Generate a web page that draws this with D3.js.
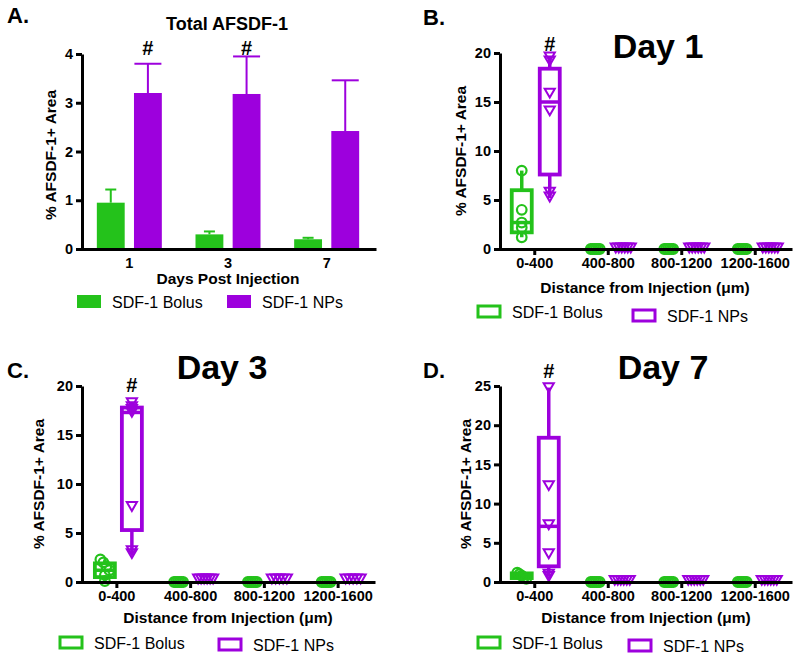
<!DOCTYPE html>
<html>
<head>
<meta charset="utf-8">
<script src="https://cdn.jsdelivr.net/npm/d3@7/dist/d3.min.js"></script>
<style>
  body { margin: 0; background: #fff; }
  svg { display: block; }
</style>
</head>
<body>
<svg width="800" height="660"></svg>
<script>
// colours + font
const GREEN = "#24c21b", PURPLE = "#9d00dd";
const FONT = "'Liberation Sans', Arial, Helvetica, sans-serif";

// Panel A: mean and upper error bar (% area)
const daysA = ["1", "3", "7"];
const bolusMean = [0.95, 0.30, 0.20];
const bolusErr = [1.22, 0.36, 0.23];
const npMean = [3.20, 3.18, 2.42];
const npErr = [3.80, 3.95, 3.46];
const sigA = [true, true, false];

// Panels B-D: distance bins, box stats [min, q1, median, q3, max] and points
const distBins = ["0-400", "400-800", "800-1200", "1200-1600"];

const day1BolusStats = [[1.2, 1.7, 2.7, 6.0, 8.0], [0, 0, 0, 0, 0], [0, 0, 0, 0, 0], [0, 0, 0, 0, 0]];
const day1BolusPts = [[8.0, 4.0, 2.7, 2.2, 1.2], [0, 0, 0, 0, 0, 0], [0, 0, 0, 0, 0, 0], [0, 0, 0, 0, 0, 0]];
const day1NpStats = [[5.2, 7.6, 15.0, 18.4, 19.6], [0, 0, 0, 0, 0], [0, 0, 0, 0, 0], [0, 0, 0, 0, 0]];
const day1NpPts = [[19.6, 19.2, 15.9, 14.1, 5.8, 5.3], [0.1, 0.1, 0.1, 0.1, 0.1, 0.1], [0.1, 0.1, 0.1, 0.1, 0.1, 0.1], [0.1, 0.1, 0.1, 0.1, 0.1, 0.1]];

const day3BolusStats = [[0.1, 0.5, 1.2, 1.9, 2.3], [0, 0, 0, 0, 0], [0, 0, 0, 0, 0], [0, 0, 0, 0, 0]];
const day3BolusPts = [[2.3, 2.0, 1.6, 1.2, 0.7, 0.1], [0, 0, 0, 0, 0, 0], [0, 0, 0, 0, 0, 0], [0, 0, 0, 0, 0, 0]];
const day3NpStats = [[2.9, 5.3, 17.3, 17.8, 18.3], [0, 0, 0, 0, 0], [0, 0, 0, 0, 0], [0, 0, 0, 0, 0]];
const day3NpPts = [[18.3, 17.9, 17.6, 17.3, 7.7, 3.2, 2.9], [0.3, 0.3, 0.3, 0.3, 0.3, 0.3], [0.3, 0.3, 0.3, 0.3, 0.3], [0.3, 0.3, 0.3, 0.3, 0.3]];

const day7BolusStats = [[0.4, 0.5, 0.8, 1.1, 1.2], [0, 0, 0, 0, 0], [0, 0, 0, 0, 0], [0, 0, 0, 0, 0]];
const day7BolusPts = [[1.2, 1.0, 0.8, 0.6, 0.4], [0, 0, 0, 0, 0, 0], [0, 0, 0, 0, 0, 0], [0, 0, 0, 0, 0, 0]];
const day7NpStats = [[0.7, 2.0, 7.1, 18.4, 24.8], [0, 0, 0, 0, 0], [0, 0, 0, 0, 0], [0, 0, 0, 0, 0]];
const day7NpPts = [[24.8, 12.3, 7.3, 3.6, 1.0, 0.7], [0.2, 0.2, 0.2, 0.2, 0.2, 0.2], [0.2, 0.2, 0.2, 0.2, 0.2, 0.2], [0.2, 0.2, 0.2, 0.2, 0.2, 0.2]];

const legendNames = ["SDF-1 Bolus", "SDF-1 NPs"];

const svg = d3.select("svg");

function styleAxis(g, size) {
    g.attr("font-family", FONT).attr("font-size", size).attr("font-weight", "bold");
    g.selectAll("path.domain").attr("stroke", "#000").attr("stroke-width", 3);
    g.selectAll(".tick line").attr("stroke", "#000").attr("stroke-width", 3);
    g.selectAll(".tick text").attr("fill", "#000");
}

function addText(txt, x, y, size, weight, anchor, rotate) {
    let t = svg.append("text")
        .attr("font-family", FONT)
        .attr("font-size", size)
        .attr("font-weight", weight)
        .attr("text-anchor", anchor || "start")
        .attr("fill", "#000")
        .text(txt);
    if (rotate) t.attr("transform", `translate(${x},${y})rotate(-90)`);
    else t.attr("x", x).attr("y", y);
    return t;
}

/* Panel A: grouped bars with error bars */
function drawBars() {
    let x = d3.scaleBand().domain(daysA).range([80, 376]);
    let xs = d3.scaleBand().domain(["bolus", "np"]).range([-32.5, 32.5]).paddingInner(0.25);
    let y = d3.scaleLinear().domain([0, 4]).range([249, 54]);

    let series = [
        {key: "bolus", color: GREEN, mean: bolusMean, err: bolusErr, cap: 11},
        {key: "np", color: PURPLE, mean: npMean, err: npErr, cap: 27}
    ];
    let g = svg.append("g");
    series.forEach(s => {
        let rows = daysA.map((d, i) => ({day: d, m: s.mean[i], e: s.err[i]}));
        let cx = d => x(d.day) + x.bandwidth() / 2 + xs(s.key) + xs.bandwidth() / 2;
        g.selectAll(".err-" + s.key)
            .data(rows)
            .join("line")
            .attr("x1", cx).attr("x2", cx)
            .attr("y1", d => y(d.m)).attr("y2", d => y(d.e))
            .attr("stroke", s.color).attr("stroke-width", 2);
        g.selectAll(".cap-" + s.key)
            .data(rows)
            .join("line")
            .attr("x1", d => cx(d) - s.cap / 2).attr("x2", d => cx(d) + s.cap / 2)
            .attr("y1", d => y(d.e)).attr("y2", d => y(d.e))
            .attr("stroke", s.color).attr("stroke-width", 2);
        g.selectAll(".bar-" + s.key)
            .data(rows)
            .join("rect")
            .attr("x", d => x(d.day) + x.bandwidth() / 2 + xs(s.key))
            .attr("y", d => y(d.m))
            .attr("width", xs.bandwidth())
            .attr("height", d => y(0) - y(d.m))
            .attr("fill", s.color);
    });

    // significance marks above NP bars
    daysA.forEach((d, i) => {
        if (!sigA[i]) return;
        addText("#", x(d) + x.bandwidth() / 2 + xs("np") + xs.bandwidth() / 2, y(3.97), 20, "bold", "middle");
    });

    let ya = svg.append("g").attr("transform", "translate(82,0)")
        .call(d3.axisLeft(y).ticks(4).tickSize(6).tickSizeOuter(0).tickPadding(3));
    styleAxis(ya, 14.5);
    let xa = svg.append("g").attr("transform", `translate(0,${y(0)})`)
        .call(d3.axisBottom(x).tickSize(0).tickSizeOuter(0).tickPadding(9));
    styleAxis(xa, 14.5);

    addText("A.", 7, 23, 22, "bold");
    addText("Total AFSDF-1", 227, 30, 18, "bold", "middle");
    addText("% AFSDF-1+ Area", 55.5, 155, 15.5, "bold", "middle", true);
    addText("Days Post Injection", 228, 284, 15.5, "bold", "middle");

    // legend (filled swatches)
    [[77, GREEN, 112], [227, PURPLE, 262]].forEach((l, i) => {
        svg.append("rect").attr("x", l[0]).attr("y", 295).attr("width", 24).attr("height", 13).attr("fill", l[1]);
        addText(legendNames[i], l[2], 308, 16, "normal");
    });
}

// points closer than `near` px (vertically) get pushed sideways across `width` px
function spread(vals, y, width, near) {
    let sorted = vals.slice().sort((a, b) => b - a);
    let clusters = [];
    sorted.forEach(v => {
        let last = clusters[clusters.length - 1];
        if (last && Math.abs(y(last[last.length - 1]) - y(v)) < near) last.push(v);
        else clusters.push([v]);
    });
    let out = [];
    clusters.forEach(c => {
        let n = c.length;
        c.forEach((v, k) => out.push({v: v, off: n > 1 ? (k / (n - 1) - 0.5) * width : 0}));
    });
    return out;
}

/* Panels B-D: box and whisker with points */
function drawBoxPanel(cfg) {
    let x = d3.scaleBand().domain(distBins).range(cfg.xRange);
    let y = d3.scaleLinear().domain([0, cfg.yMax]).range(cfg.yRange);
    let g = svg.append("g");

    let ya = svg.append("g").attr("transform", `translate(${cfg.xRange[0] + 2},0)`)
        .call(d3.axisLeft(y).ticks(cfg.yMax / 5).tickSize(6).tickSizeOuter(0).tickPadding(3));
    styleAxis(ya, 14.5);
    let xa = svg.append("g").attr("transform", `translate(0,${y(0)})`)
        .call(d3.axisBottom(x).tickSize(6).tickSizeOuter(0).tickPadding(3));
    styleAxis(xa, 14.5);

    let series = [
        {color: GREEN, stats: cfg.bolusStats, pts: cfg.bolusPts, shape: "circle", dx: cfg.dx[0]},
        {color: PURPLE, stats: cfg.npStats, pts: cfg.npPts, shape: "tri", dx: cfg.dx[1]}
    ];
    let bw = 20;
    let tri = d3.symbol(d3.symbolTriangle, 45);
    series.forEach(s => {
        distBins.forEach((bin, i) => {
            let cx = x(bin) + x.bandwidth() / 2 + s.dx;
            let st = s.stats[i];
            if (st[4] > st[0]) {
                g.append("line")
                    .attr("x1", cx).attr("x2", cx)
                    .attr("y1", y(st[0])).attr("y2", y(st[4]))
                    .attr("stroke", s.color).attr("stroke-width", 3.5);
                g.append("rect")
                    .attr("x", cx - bw / 2).attr("y", y(st[3]))
                    .attr("width", bw).attr("height", y(st[1]) - y(st[3]))
                    .attr("fill", "#fff").attr("stroke", s.color).attr("stroke-width", 3.8);
                g.append("line")
                    .attr("x1", cx - bw / 2).attr("x2", cx + bw / 2)
                    .attr("y1", y(st[2])).attr("y2", y(st[2]))
                    .attr("stroke", s.color).attr("stroke-width", 3.5);
            }
            if (s.shape === "circle") {
                g.selectAll(null)
                    .data(spread(s.pts[i], y, 9, 4))
                    .join("circle")
                    .attr("cx", d => cx + d.off)
                    .attr("cy", d => y(d.v))
                    .attr("r", 4.8)
                    .attr("fill", "none")
                    .attr("stroke", s.color).attr("stroke-width", 2.2);
            } else {
                g.selectAll(null)
                    .data(spread(s.pts[i], y, 15, 1))
                    .join("path")
                    .attr("d", tri)
                    .attr("transform", d => `translate(${cx + d.off},${y(d.v) - 1.5})rotate(180)`)
                    .attr("fill", "none")
                    .attr("stroke", s.color).attr("stroke-width", 2);
            }
        });
    });

    // significance mark over the NP box in first bin
    addText("#", x(distBins[0]) + x.bandwidth() / 2 + cfg.dx[1], y(cfg.hashAt), 20, "bold", "middle");

    addText(cfg.letter, cfg.letterPos[0], cfg.letterPos[1], 22, "bold");
    addText(cfg.title, cfg.titlePos[0], cfg.titlePos[1], 34, "bold", "middle");
    addText("% AFSDF-1+ Area", cfg.yTitlePos[0], cfg.yTitlePos[1], 15.5, "bold", "middle", true);
    addText("Distance from Injection (\u03bcm)", cfg.xTitlePos[0], cfg.xTitlePos[1], 15.5, "bold", "middle");

    // legend (open swatches)
    [GREEN, PURPLE].forEach((c, i) => {
        let p = cfg.legend[i];
        svg.append("rect").attr("x", p[0]).attr("y", p[1]).attr("width", 22).attr("height", 11)
            .attr("fill", "none").attr("stroke", c).attr("stroke-width", 3);
        addText(legendNames[i], p[0] + 34, p[1] + 12, 16, "normal");
    });
}

drawBars();

drawBoxPanel({
    letter: "B.", letterPos: [423, 25], title: "Day 1", titlePos: [658, 58],
    xRange: [498, 792], yRange: [249, 53], yMax: 20, dx: [-13, 15], hashAt: 20.2,
    bolusStats: day1BolusStats, bolusPts: day1BolusPts, npStats: day1NpStats, npPts: day1NpPts,
    yTitlePos: [465.5, 151], xTitlePos: [645, 293],
    legend: [[478, 306], [633, 310]]
});

drawBoxPanel({
    letter: "C.", letterPos: [7, 378], title: "Day 3", titlePos: [222, 379],
    xRange: [80, 375], yRange: [582, 386], yMax: 20, dx: [-12, 15], hashAt: 19.4,
    bolusStats: day3BolusStats, bolusPts: day3BolusPts, npStats: day3NpStats, npPts: day3NpPts,
    yTitlePos: [43.5, 484], xTitlePos: [228, 623],
    legend: [[60, 637], [219, 639]]
});

drawBoxPanel({
    letter: "D.", letterPos: [423, 378], title: "Day 7", titlePos: [663, 379],
    xRange: [498, 792], yRange: [582, 386], yMax: 25, dx: [-13, 14], hashAt: 26,
    bolusStats: day7BolusStats, bolusPts: day7BolusPts, npStats: day7NpStats, npPts: day7NpPts,
    yTitlePos: [471, 484], xTitlePos: [646, 623],
    legend: [[478, 637], [629, 640]]
});
</script>
</body>
</html>
